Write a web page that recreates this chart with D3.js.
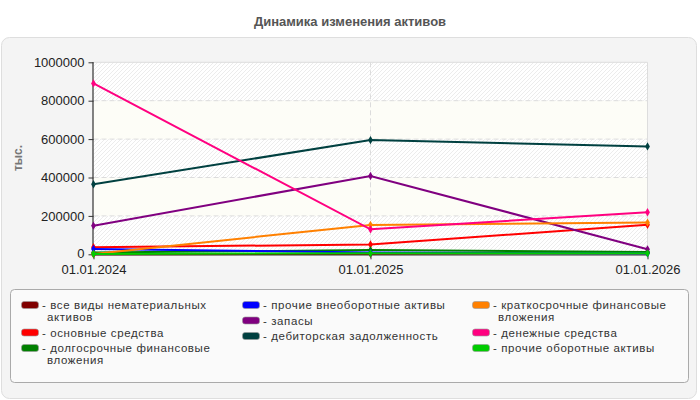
<!DOCTYPE html>
<html>
<head>
<meta charset="utf-8">
<script src="https://cdn.jsdelivr.net/npm/d3@7"></script>
<style>
  body { margin: 0; background: #fff; }
  svg { display: block; font-family: "Liberation Sans", Arial, sans-serif; }
</style>
</head>
<body>
<div id="chart"></div>
<script>
/* данные */
const dates = ["01.01.2024", "01.01.2025", "01.01.2026"];
const seriesNames = [
  "все виды нематериальных\nактивов",
  "основные средства",
  "долгосрочные финансовые\nвложения",
  "прочие внеоборотные активы",
  "запасы",
  "дебиторская задолженность",
  "краткосрочные финансовые\nвложения",
  "денежные средства",
  "прочие оборотные активы"
];
const seriesColors = ["#800000", "#ff0000", "#008000", "#0000ff", "#800080", "#004040", "#ff8000", "#ff0080", "#00cc00"];
const nematerialnye = [0, 3000, 10000];
const osnovnye = [37000, 51000, 154000];
const dolgosrochnye = [9000, 22000, 12000];
const prochieVneob = [28000, 9000, 5000];
const zapasy = [149000, 408000, 26000];
const debitorskaya = [365000, 595000, 562000];
const kratkosrochnye = [2000, 153000, 165000];
const denezhnye = [890000, 130000, 219000];
const prochieOborot = [1500, 5000, 5000];
const yTicks = [0, 200000, 400000, 600000, 800000, 1000000];

const seriesValues = [nematerialnye, osnovnye, dolgosrochnye, prochieVneob, zapasy,
  debitorskaya, kratkosrochnye, denezhnye, prochieOborot];

/* размеры */
const W = 700, H = 400;
const plot = { left: 93.5, right: 647.5, top: 62.3, bottom: 254.3 };

const svg = d3.select("#chart").append("svg").attr("width", W).attr("height", H);

const defs = svg.append("defs");
const hatch = defs.append("pattern")
  .attr("id", "hatch").attr("patternUnits", "userSpaceOnUse")
  .attr("width", 4).attr("height", 4);
hatch.append("rect").attr("width", 4).attr("height", 4).attr("fill", "#ffffff");
hatch.append("path").attr("d", "M-1,1 l2,-2 M0,4 l4,-4 M3,5 l2,-2")
  .attr("stroke", "#ececec").attr("stroke-width", 1);

// заголовок
svg.append("text")
  .attr("x", 350).attr("y", 26)
  .attr("text-anchor", "middle")
  .attr("font-size", 13).attr("font-weight", "bold").attr("fill", "#555")
  .text("Динамика изменения активов");

// панель
svg.append("rect")
  .attr("x", 1.5).attr("y", 37.5).attr("width", 695).attr("height", 361)
  .attr("rx", 8).attr("fill", "#f4f4f4").attr("stroke", "#dedede");

const x = d3.scalePoint().domain(dates).range([plot.left, plot.right]);
const y = d3.scaleLinear().domain([0, 1000000]).range([plot.bottom, plot.top]);

// полосы фона
const bands = d3.range(yTicks.length - 1);
svg.append("g").selectAll("rect").data(bands).enter().append("rect")
  .attr("x", plot.left).attr("width", plot.right - plot.left)
  .attr("y", i => y(yTicks[i + 1])).attr("height", i => y(yTicks[i]) - y(yTicks[i + 1]))
  .attr("fill", i => i % 2 === 0 ? "url(#hatch)" : "#fdfdf7");

// сетка
svg.append("g").selectAll("line").data(yTicks.slice(1, -1)).enter().append("line")
  .attr("x1", plot.left).attr("x2", plot.right)
  .attr("y1", d => y(d)).attr("y2", d => y(d))
  .attr("stroke", "#dcdcdc").attr("stroke-dasharray", "5,3");
svg.append("g").selectAll("line").data(dates.slice(1, -1)).enter().append("line")
  .attr("x1", d => x(d)).attr("x2", d => x(d))
  .attr("y1", plot.top).attr("y2", plot.bottom)
  .attr("stroke", "#dcdcdc").attr("stroke-dasharray", "5,3");

// рамка сверху и справа
svg.append("path")
  .attr("d", `M${plot.left},${plot.top}H${plot.right}V${plot.bottom}`)
  .attr("fill", "none").attr("stroke", "#dddddd");

// оси
const yAxis = svg.append("g")
  .attr("transform", `translate(${plot.left},0)`)
  .call(d3.axisLeft(y).tickValues(yTicks).tickSize(5).tickPadding(4).tickFormat(d3.format("d")));
const xAxis = svg.append("g")
  .attr("transform", `translate(0,${plot.bottom})`)
  .call(d3.axisBottom(x).tickSize(5).tickPadding(5));
[yAxis, xAxis].forEach(g => {
  g.select(".domain").attr("stroke", "#333").attr("stroke-width", 1.2);
  g.selectAll(".tick line").attr("stroke", "#333");
  g.selectAll(".tick text").attr("font-size", 13).attr("fill", "#222")
    .attr("font-family", "'Liberation Sans', Arial, sans-serif");
});
yAxis.select(".domain").attr("d", `M-0.5,${plot.top}V${plot.bottom}`);
xAxis.select(".domain").attr("d", `M${plot.left},0.5H${plot.right}`);
// подпись нуля чуть выше, чтобы не задевать дату
yAxis.selectAll(".tick text").filter(d => d === 0).attr("dy", "0.22em");

svg.append("text")
  .attr("transform", "translate(22,158) rotate(-90)")
  .attr("text-anchor", "middle")
  .attr("font-size", 12).attr("font-weight", "bold").attr("fill", "#777")
  .text("тыс.");

// линии
const line = d3.line().x((d, i) => x(dates[i])).y(d => y(d));
const seriesG = svg.append("g").selectAll("g").data(seriesValues).enter().append("g");
seriesG.append("path")
  .attr("d", d => line(d))
  .attr("fill", "none")
  .attr("stroke", (d, i) => seriesColors[i])
  .attr("stroke-width", 2);
seriesG.each(function (vals, si) {
  d3.select(this).selectAll("path.pt").data(vals).enter().append("path")
    .attr("class", "pt")
    .attr("d", d3.symbol().type(d3.symbolDiamond).size(20))
    .attr("transform", (d, i) => `translate(${x(dates[i])},${y(d)})`)
    .attr("fill", seriesColors[si]);
});

// легенда
svg.append("rect")
  .attr("x", 10.5).attr("y", 289.5).attr("width", 678).attr("height", 93)
  .attr("rx", 4).attr("fill", "#fafafa").attr("stroke", "#aaa");

const colX = [21, 242, 472];
const legend = svg.append("g")
  .attr("font-size", 11.5).attr("letter-spacing", 0.6).attr("fill", "#333");
for (let c = 0; c < 3; c++) {
  let cy = 305;
  for (let r = 0; r < 3; r++) {
    const idx = c * 3 + r;
    const lines = seriesNames[idx].split("\n");
    legend.append("rect")
      .attr("x", colX[c] + 0.5).attr("y", cy - 3.5).attr("width", 17).attr("height", 7)
      .attr("rx", 2.5).attr("fill", seriesColors[idx]).attr("stroke", "#999").attr("stroke-width", 0.6);
    lines.forEach((ln, li) => {
      legend.append("text")
        .attr("x", li === 0 ? colX[c] + 21 : colX[c] + 26)
        .attr("y", cy + 4 + li * 12)
        .text(li === 0 ? "- " + ln : ln);
    });
    cy += (lines.length - 1) * 12 + 15.5;
  }
}
</script>
</body>
</html>
